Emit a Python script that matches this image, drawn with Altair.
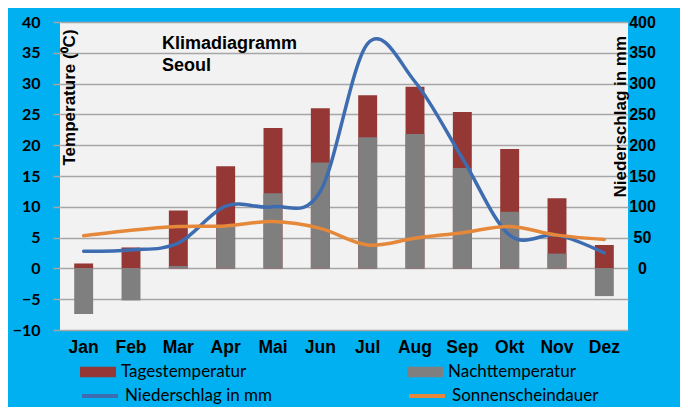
import altair as alt
import pandas as pd

months = ["Jan", "Feb", "Mar", "Apr", "Mai", "Jun", "Jul", "Aug", "Sep", "Okt", "Nov", "Dez"]
day_temp = [0.8, 3.4, 9.4, 16.6, 22.8, 26.0, 28.1, 29.5, 25.4, 19.4, 11.4, 3.8]
night_temp = [-7.4, -5.2, 0.4, 7.0, 12.2, 17.2, 21.3, 21.8, 16.3, 9.2, 2.4, -4.5]
precip = [28, 30, 41, 101, 100, 125, 365, 303, 179, 54, 54, 25]
sunshine = [5.3, 6.2, 6.8, 6.9, 7.6, 6.5, 3.8, 4.9, 5.8, 6.8, 5.4, 4.7]
temp_ticks = [-10, -5, 0, 5, 10, 15, 20, 25, 30, 35, 40]
precip_ticks = [0, 50, 100, 150, 200, 250, 300, 350, 400]

RED = "#953735"
GREY = "#7f7f7f"
BLUE = "#3d6cb0"
ORANGE = "#e5883a"
GRID = "#a6a6a6"

df = pd.DataFrame({
    "Monat": months,
    "Tag": day_temp,
    "Nacht": night_temp,
    "Nieder": precip,
    "Sonne": sunshine,
})

base = alt.Chart(df)

x_enc = alt.X(
    "Monat:N",
    sort=months,
    scale=alt.Scale(paddingInner=0.6, paddingOuter=0.3),
    axis=alt.Axis(
        title=None, labelAngle=0, ticks=False, domain=False, grid=False,
        labelFont="Liberation Sans", labelFontWeight="bold", labelFontSize=17.5,
        labelColor="black", labelPadding=8,
    ),
)

temp_scale = alt.Scale(domain=[-10, 40], nice=False, zero=False)
precip_scale = alt.Scale(domain=[-100, 400], nice=False, zero=False)

temp_axis = alt.Axis(
    title="Temperature (\u2070C)",
    values=temp_ticks,
    labelFont="Lato", labelFontWeight="bold", labelFontSize=16, labelColor="black",
    labelPadding=13, tickSize=7, tickColor=GRID, tickWidth=1.5,
    grid=True, gridColor=GRID, gridWidth=1.5, domain=False,
    titleFont="Liberation Sans", titleFontWeight="bold", titleFontSize=17, titleColor="black",
    titleAngle=270, titleAlign="left", titleBaseline="alphabetic",
    titleX=14, titleY=143,
)

precip_axis = alt.Axis(
    orient="right",
    title="Niederschlag in mm",
    values=precip_ticks,
    labelFont="Liberation Sans", labelFontWeight="bold", labelFontSize=16, labelColor="black",
    labelAlign="center", labelPadding=14, ticks=False, tickSize=0,
    grid=False, domain=False,
    titleFont="Liberation Sans", titleFontWeight="bold", titleFontSize=17, titleColor="black",
    titleAngle=270, titleAlign="left", titleBaseline="alphabetic",
    titleX=-3, titleY=175,
)

RECT = "M-1,-0.29H1V0.29H-1Z"


def legend(x, y, shape):
    return alt.Legend(
        orient="none", legendX=x, legendY=y, title=None,
        symbolType=shape, symbolSize=1296, symbolStrokeWidth=(4 if shape == "stroke" else 0),
        labelFont="Lato", labelFontSize=17, labelColor="black", labelOffset=5,
        padding=0,
    )


red = base.mark_bar(color=RED).transform_calculate(lbl="'Tagestemperatur'").encode(
    x=x_enc,
    y=alt.Y("Tag:Q", scale=temp_scale, axis=temp_axis, stack=None),
    color=alt.Color("lbl:N", scale=alt.Scale(domain=["Tagestemperatur"], range=[RED]),
                    legend=legend(20, 332, RECT)),
)

grey = base.mark_bar(color=GREY).transform_calculate(lbl="'Nachttemperatur'").encode(
    x=x_enc,
    y=alt.Y("Nacht:Q", scale=temp_scale, axis=None, stack=None),
    color=alt.Color("lbl:N", scale=alt.Scale(domain=["Nachttemperatur"], range=[GREY]),
                    legend=legend(347, 332, RECT)),
)

blue = base.mark_line(strokeWidth=3.5, interpolate="cardinal", strokeCap="round").transform_calculate(
    lbl="'Niederschlag in mm'").encode(
    x=x_enc,
    y=alt.Y("Nieder:Q", scale=precip_scale, axis=precip_axis),
    color=alt.Color("lbl:N", scale=alt.Scale(domain=["Niederschlag in mm"], range=[BLUE]),
                    legend=legend(20, 354, "stroke")),
)

orange = base.mark_line(strokeWidth=3.5, interpolate="cardinal", strokeCap="round").transform_calculate(
    lbl="'Sonnenscheindauer'").encode(
    x=x_enc,
    y=alt.Y("Sonne:Q", scale=temp_scale, axis=None),
    color=alt.Color("lbl:N", scale=alt.Scale(domain=["Sonnenscheindauer"], range=[ORANGE]),
                    legend=legend(347, 354, "stroke")),
)

title_text = alt.Chart(alt.Data(values=[{}])).mark_text(
    text=["Klimadiagramm", "Seoul"], align="left", baseline="alphabetic",
    font="Liberation Sans", fontWeight="bold", fontSize=18, lineHeight=22, color="black",
).encode(x=alt.value(102), y=alt.value(27))

chart = alt.layer(red, grey, blue, orange, title_text).resolve_scale(
    y="independent", color="independent"
).properties(
    width=568, height=308,
    background="#00b0f0",
    padding={"left": 52, "top": 14, "right": 52, "bottom": 77},
    autosize=alt.AutoSizeParams(type="none"),
).configure_view(stroke=None, fill="#f2f2f2")

chart.save("out.html", embed_options={"renderer": "svg", "actions": False})
